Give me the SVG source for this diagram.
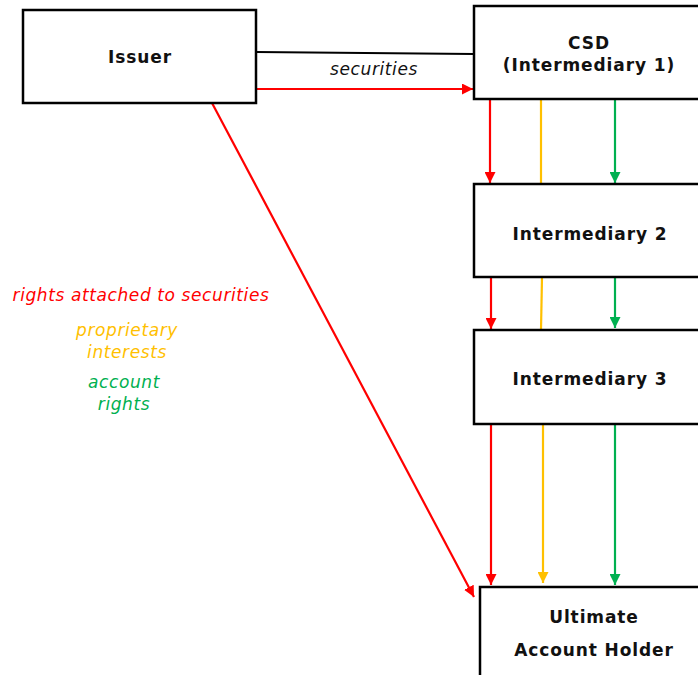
<svg xmlns="http://www.w3.org/2000/svg" width="698" height="675" viewBox="0 0 698 675">
<style>
.box{fill:#fff;stroke:#000;stroke-width:2.5}
.lbl{font-family:"DejaVu Sans",Verdana,sans-serif;font-weight:bold;font-size:17px;letter-spacing:0.9px;fill:#111;text-anchor:middle}
.it{font-family:"DejaVu Sans",Verdana,sans-serif;font-style:italic;font-size:17px;letter-spacing:0.6px;text-anchor:middle}
.r{stroke:#FF0000;stroke-width:2.2;fill:none}
.y{stroke:#FFC000;stroke-width:2.2;fill:none}
.g{stroke:#00B050;stroke-width:2.2;fill:none}
</style>
<defs>
<marker id="ar" viewBox="0 0 10 10" refX="10" refY="5" markerWidth="11" markerHeight="11" markerUnits="userSpaceOnUse" orient="auto"><path d="M0,0 L10,5 L0,10 Z" fill="#FF0000"/></marker>
<marker id="ay" viewBox="0 0 10 10" refX="10" refY="5" markerWidth="11" markerHeight="11" markerUnits="userSpaceOnUse" orient="auto"><path d="M0,0 L10,5 L0,10 Z" fill="#FFC000"/></marker>
<marker id="ag" viewBox="0 0 10 10" refX="10" refY="5" markerWidth="11" markerHeight="11" markerUnits="userSpaceOnUse" orient="auto"><path d="M0,0 L10,5 L0,10 Z" fill="#00B050"/></marker>
</defs>
<rect width="698" height="675" fill="#fff"/>
<g id="connectors">
<line x1="256" y1="52" x2="474" y2="54" stroke="#000" stroke-width="2"/>
<text class="it" x="374" y="75" fill="#111">securities</text>
<line class="r" x1="256" y1="89" x2="473" y2="89" marker-end="url(#ar)"/>
<line class="r" x1="212" y1="103" x2="474" y2="597" marker-end="url(#ar)"/>
<line class="r" x1="490" y1="99" x2="490" y2="183" marker-end="url(#ar)"/>
<line class="y" x1="541" y1="99" x2="541" y2="184"/>
<line class="g" x1="615" y1="99" x2="615" y2="183" marker-end="url(#ag)"/>
<line class="r" x1="491" y1="277" x2="491" y2="329" marker-end="url(#ar)"/>
<line class="y" x1="542" y1="277" x2="541" y2="330"/>
<line class="g" x1="615" y1="277" x2="615" y2="328" marker-end="url(#ag)"/>
<line class="r" x1="491" y1="424" x2="491" y2="585" marker-end="url(#ar)"/>
<line class="y" x1="543" y1="424" x2="543" y2="583" marker-end="url(#ay)"/>
<line class="g" x1="615" y1="424" x2="615" y2="585" marker-end="url(#ag)"/>
</g>
<g id="issuer"><rect class="box" x="23" y="10" width="233" height="93"/><text class="lbl" x="140" y="63">Issuer</text></g>
<g id="csd"><rect class="box" x="474" y="6" width="240" height="93"/><text class="lbl" x="589" y="49">CSD</text><text class="lbl" x="589" y="71">(Intermediary 1)</text></g>
<g id="int2"><rect class="box" x="474" y="184" width="240" height="93"/><text class="lbl" x="590" y="240">Intermediary 2</text></g>
<g id="int3"><rect class="box" x="474" y="330" width="240" height="94"/><text class="lbl" x="590" y="385">Intermediary 3</text></g>
<g id="uah"><rect class="box" x="480" y="587" width="240" height="100"/><text class="lbl" x="594" y="623">Ultimate</text><text class="lbl" x="594" y="656">Account Holder</text></g>
<g id="legend">
<text class="it" x="141" y="301" fill="#FF0000">rights attached to securities</text>
<text class="it" x="127" y="336" fill="#FFC000">proprietary</text>
<text class="it" x="127" y="358" fill="#FFC000">interests</text>
<text class="it" x="124" y="388" fill="#00B050">account</text>
<text class="it" x="124" y="410" fill="#00B050">rights</text>
</g>
</svg>
